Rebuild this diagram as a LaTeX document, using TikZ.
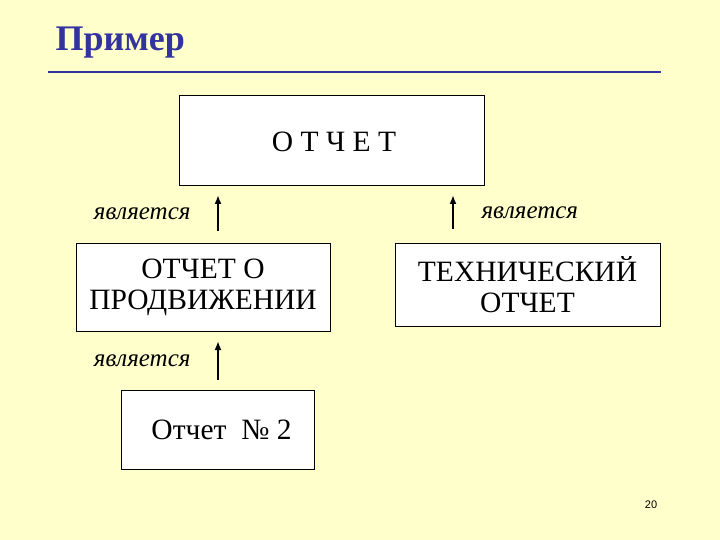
\documentclass[tikz,border=0pt]{standalone}
\usepackage{fontspec}
\usetikzlibrary{arrows.meta}
\setmainfont{Liberation Serif}
\newfontfamily\numfont{Liberation Sans}
\definecolor{bg}{HTML}{FFFFCC}
\definecolor{ttl}{HTML}{3333A0}
\begin{document}
\begin{tikzpicture}[x=1pt,y=-1pt,
  box/.style={draw,thick,fill=white,inner sep=0pt,align=center,font=\fontsize{29.5}{31}\selectfont},
  lbl/.style={font=\itshape\fontsize{25}{27}\selectfont},
  arr/.style={-{Latex[length=9pt,width=7pt]},line width=2pt}]
\useasboundingbox (0,0) rectangle (720,540);
\fill[bg] (0,0) rectangle (720,540);
\node[anchor=west,text=ttl,font=\bfseries\fontsize{36}{38}\selectfont] (title) at (52,43) {Пример};
\draw[ttl,line width=1.5pt] (48,72) coordinate (l1) -- (661,72) coordinate (l2);
\node[box,minimum width=305pt,minimum height=90pt] (top) at (331.5,140) {};
\node[font=\fontsize{29.5}{31}\selectfont] (toptext) at (334,142) {О Т Ч Е Т};
\node[box,minimum width=254pt,minimum height=88pt] (prod) at (203,287) {ОТЧЕТ О\\ПРОДВИЖЕНИИ};
\node[box,minimum width=265pt,minimum height=83pt] (tech) at (527.5,284.5) {ТЕХНИЧЕСКИЙ\\ОТЧЕТ};
\node[box,minimum width=193pt,minimum height=79pt] (r2) at (217.5,430) {\hspace*{8pt}Отчет \ № 2};
\draw[arr] (218,231) coordinate (a1) -- (218,195) coordinate (b1);
\draw[arr] (453,229) coordinate (a2) -- (453,195) coordinate (b2);
\draw[arr] (218,380) coordinate (a3) -- (218,341) coordinate (b3);
\node[lbl,anchor=east] (l1t) at (194,214) {является};
\node[lbl,anchor=west] (l2t) at (478,213) {является};
\node[lbl,anchor=east] (l3t) at (194,361) {является};
\node[font=\numfont\fontsize{11}{12}\selectfont] (pg) at (651,505) {20};
\end{tikzpicture}
\end{document}
